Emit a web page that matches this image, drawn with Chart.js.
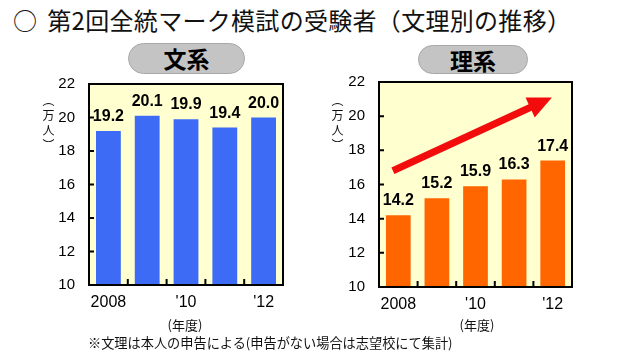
<!DOCTYPE html>
<html><head><meta charset="utf-8">
<script src="https://cdn.jsdelivr.net/npm/chart.js@4.4.0/dist/chart.umd.min.js"></script>
<style>
html,body{margin:0;padding:0;background:#fff;width:640px;height:357px;overflow:hidden;}
body{position:relative;font-family:"Noto Sans CJK JP",sans-serif;color:#111;}
.abs{position:absolute;white-space:nowrap;}
#title{left:13px;top:4px;font-size:24px;line-height:32px;letter-spacing:0.3px;}
#title .sp{display:inline-block;width:10px;}
.pill{background:#c4c4c4;border:1px solid #a8a8a8;box-sizing:border-box;border-radius:16px;text-align:center;font-weight:bold;font-size:23px;line-height:28px;color:#000;}
.ytitle{writing-mode:vertical-rl;font-size:12px;line-height:12px;letter-spacing:3px;}
.year{font-size:13px;line-height:16px;transform:translateX(-50%);}
#note{left:88px;top:334px;font-size:13.2px;line-height:18px;}
.cw{position:absolute;top:0;width:320px;height:357px;}
</style>
</head><body>
<div id="title" class="abs">○<span class="sp"></span>第2回全統マーク模試の受験者（文理別の推移）</div>
<div class="abs pill" style="left:128px;top:43px;width:117px;height:31px;">文系</div>
<div class="abs pill" style="left:418px;top:45px;width:110px;height:29px;">理系</div>
<div class="cw" style="left:0"><canvas id="c1" width="320" height="357"></canvas></div>
<div class="cw" style="left:320px"><canvas id="c2" width="320" height="357"></canvas></div>
<div class="abs ytitle" style="left:42px;top:94px;">（万人）</div>
<div class="abs ytitle" style="left:331px;top:94px;">（万人）</div>
<div class="abs year" style="left:185px;top:317px;">(年度)</div>
<div class="abs year" style="left:477px;top:317px;">(年度)</div>
<div id="note" class="abs">※文理は本人の申告による(申告がない場合は志望校にて集計)</div>
<script>
// ---- data ----
const categories = ["2008", "2009", "2010", "2011", "2012"];
const tickLabels = ["2008", "", "'10", "", "'12"];
const bunkei = [19.2, 20.1, 19.9, 19.4, 20.0];   // 文系 (万人)
const rikei  = [14.2, 15.2, 15.9, 16.3, 17.4];   // 理系 (万人)
const yMin = 10, yMax = 22, yStep = 2;
// trend arrow (category index, value) on 理系 chart
const arrowFrom = [-0.14, 16.8];
const arrowTo   = [3.98, 21.1];

const framePlugin = {
  id: 'frame',
  beforeDatasetsDraw(chart) {
    const a = chart.chartArea, ctx = chart.ctx;
    ctx.save();
    ctx.fillStyle = '#ffffd0';
    ctx.fillRect(a.left, a.top, a.right - a.left, a.bottom - a.top);
    ctx.restore();
  },
  afterDatasetsDraw(chart) {
    const a = chart.chartArea, ctx = chart.ctx;
    const ys = chart.scales.y, xs = chart.scales.x;
    ctx.save();
    ctx.strokeStyle = '#000';
    ctx.lineWidth = 2;
    ctx.strokeRect(a.left, a.top, a.right - a.left, a.bottom - a.top);
    ctx.beginPath();
    for (let v = yMin + yStep; v < yMax; v += yStep) {
      const y = ys.getPixelForValue(v);
      ctx.moveTo(a.left, y); ctx.lineTo(a.left + 5, y);
    }
    for (let i = 0; i < categories.length - 1; i++) {
      const x = (xs.getPixelForValue(i) + xs.getPixelForValue(i + 1)) / 2;
      ctx.moveTo(x, a.bottom); ctx.lineTo(x, a.bottom - 6);
    }
    ctx.stroke();
    // value labels
    ctx.fillStyle = '#000';
    ctx.font = 'bold 16px "Liberation Sans", Arial, sans-serif';
    ctx.textAlign = 'center';
    ctx.textBaseline = 'alphabetic';
    const meta = chart.getDatasetMeta(0);
    const data = chart.data.datasets[0].data;
    meta.data.forEach((bar, i) => {
      ctx.fillText(data[i].toFixed(1), bar.x, bar.y - 10);
    });
    ctx.restore();
  }
};

const arrowPlugin = {
  id: 'arrow',
  afterDatasetsDraw(chart) {
    const xs = chart.scales.x, ys = chart.scales.y, ctx = chart.ctx;
    const x0 = xs.getPixelForValue(arrowFrom[0]), y0 = ys.getPixelForValue(arrowFrom[1]);
    const x1 = xs.getPixelForValue(arrowTo[0]), y1 = ys.getPixelForValue(arrowTo[1]);
    const dx = x1 - x0, dy = y1 - y0, L = Math.hypot(dx, dy);
    const ux = dx / L, uy = dy / L, nx = -uy, ny = ux;
    const headLen = 24, headW = 11, shaftW = 3.6;
    const bx = x1 - ux * headLen, by = y1 - uy * headLen;
    ctx.save();
    ctx.fillStyle = '#f20c0c';
    ctx.beginPath();
    ctx.moveTo(x0 + nx * shaftW, y0 + ny * shaftW);
    ctx.lineTo(bx + nx * shaftW, by + ny * shaftW);
    ctx.lineTo(bx + nx * headW, by + ny * headW);
    ctx.lineTo(x1, y1);
    ctx.lineTo(bx - nx * headW, by - ny * headW);
    ctx.lineTo(bx - nx * shaftW, by - ny * shaftW);
    ctx.lineTo(x0 - nx * shaftW, y0 - ny * shaftW);
    ctx.closePath();
    ctx.fill();
    ctx.restore();
  }
};

function makeChart(id, values, color, yWidth, pad, xHeight, withArrow) {
  return new Chart(document.getElementById(id), {
    type: 'bar',
    data: {
      labels: categories,
      datasets: [{ data: values, backgroundColor: color, borderWidth: 0,
                   barPercentage: 0.64, categoryPercentage: 1.0 }]
    },
    options: {
      responsive: false,
      animation: false,
      events: [],
      layout: { padding: pad },
      plugins: { legend: { display: false }, tooltip: { enabled: false } },
      scales: {
        x: {
          grid: { display: false, drawTicks: false },
          border: { display: false },
          ticks: {
            autoSkip: false, maxRotation: 0, padding: 8, color: '#000',
            font: { family: '"Liberation Sans", Arial, sans-serif', size: 16 },
            callback: (v, i) => tickLabels[i]
          },
          afterFit: s => { s.height = xHeight; }
        },
        y: {
          min: yMin, max: yMax,
          grid: { display: false, drawTicks: false },
          border: { display: false },
          ticks: {
            stepSize: yStep, padding: 14, color: '#000',
            font: { family: '"Liberation Sans", Arial, sans-serif', size: 15 }
          },
          afterFit: s => { s.width = yWidth; }
        }
      }
    },
    plugins: withArrow ? [framePlugin, arrowPlugin] : [framePlugin]
  });
}

Chart.defaults.font.family = '"Liberation Sans", Arial, sans-serif';
makeChart('c1', bunkei, '#3d6bf5', 89, { left: 0, right: 37, top: 84, bottom: 42 }, 30, false);
makeChart('c2', rikei, '#ff6600', 59, { left: 0, right: 68, top: 82, bottom: 40 }, 30, true);
</script>
</body></html>
